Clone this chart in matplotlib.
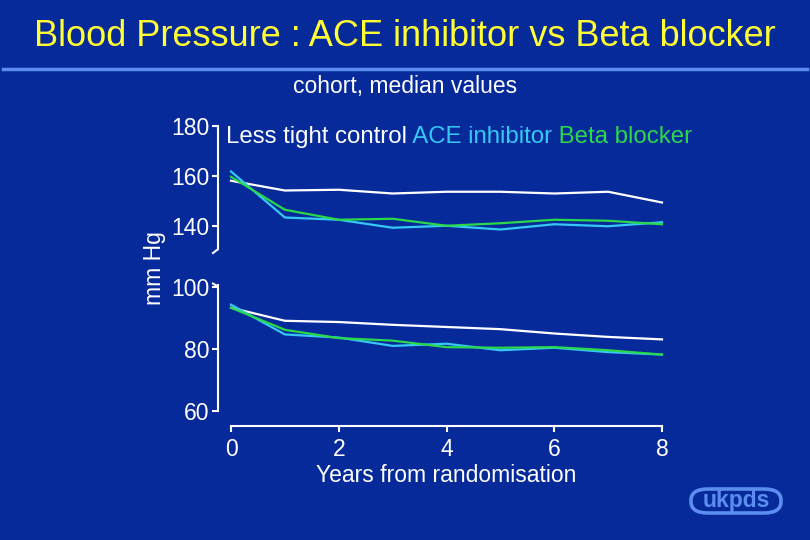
import matplotlib
matplotlib.use("Agg")
import matplotlib.pyplot as plt
from matplotlib.lines import Line2D
from matplotlib.patches import FancyBboxPatch

plt.rcParams["font.family"] = ["Liberation Sans", "DejaVu Sans"]

# данные (медианы, мм рт. ст.)
years = [0, 1, 2, 3, 4, 5, 6, 7, 8]
sys_less = [158.1, 154.2, 154.5, 153.0, 153.7, 153.7, 153.0, 153.7, 149.4]
sys_ace = [161.8, 143.4, 142.5, 139.3, 140.1, 138.6, 140.7, 139.9, 141.5]
sys_beta = [159.7, 146.5, 142.5, 142.9, 140.1, 141.1, 142.5, 142.1, 140.7]
dia_less = [93.3, 89.1, 88.7, 87.8, 87.1, 86.4, 85.0, 83.9, 83.1]
dia_ace = [94.3, 84.7, 83.7, 81.0, 81.7, 79.6, 80.4, 79.0, 78.2]
dia_beta = [93.3, 86.2, 83.5, 82.7, 80.6, 80.4, 80.6, 79.6, 78.2]
top_ticks = [140, 160, 180]
bot_ticks = [60, 80, 100]
x_ticks = [0, 2, 4, 6, 8]

BG = "#062a9a"
WHITE = "#ffffff"
CYAN = "#36c8f4"
GREEN = "#2ad84a"
LBLUE = "#5b8def"
W, H = 810, 540

fig = plt.figure(figsize=(8.1, 5.4), dpi=100, facecolor=BG)

fig.text(0.5, 1 - 37 / H, "Blood Pressure : ACE inhibitor vs Beta blocker",
         ha="center", va="center", fontsize=26, color="#ffff33")
fig.add_artist(Line2D([3 / W, 807 / W], [1 - 69 / H] * 2, color=LBLUE, lw=2.5))
fig.text(0.5, 1 - 87 / H, "cohort, median values", ha="center", va="center",
         fontsize=16.5, color=WHITE)

ax1 = fig.add_axes([231 / W, 1 - 251 / H, 431 / W, 125 / H])
ax2 = fig.add_axes([231 / W, 1 - 411 / H, 431 / W, 124 / H])

for ax in (ax1, ax2):
    ax.set_facecolor(BG)
    ax.patch.set_alpha(0)
    for s in ("top", "right"):
        ax.spines[s].set_visible(False)
    ax.spines["left"].set_position(("outward", 9.4))
    ax.spines["left"].set_color(WHITE)
    ax.spines["left"].set_linewidth(1.5)
    ax.tick_params(axis="y", colors=WHITE, length=4.5, width=1.5,
                   labelsize=16.5, pad=1.5, direction="out")
    ax.set_xlim(0, 8)

# систолическое
ax1.plot(years, sys_less, color=WHITE, lw=1.6, clip_on=False)
ax1.plot(years, sys_ace, color=CYAN, lw=1.6, clip_on=False)
ax1.plot(years, sys_beta, color=GREEN, lw=1.6, clip_on=False)
ax1.set_ylim(130, 180)
ax1.set_yticks(top_ticks)
ax1.spines["left"].set_bounds(131, 180)
ax1.spines["bottom"].set_visible(False)
ax1.set_xticks([])

# диастолическое
ax2.plot(years, dia_less, color=WHITE, lw=1.6, clip_on=False)
ax2.plot(years, dia_ace, color=CYAN, lw=1.6, clip_on=False)
ax2.plot(years, dia_beta, color=GREEN, lw=1.6, clip_on=False)
ax2.set_ylim(60, 100)
ax2.set_yticks(bot_ticks)
ax2.spines["left"].set_bounds(60, 100.6)
ax2.spines["bottom"].set_position(("outward", 10.8))
ax2.spines["bottom"].set_bounds(0, 8)
ax2.spines["bottom"].set_color(WHITE)
ax2.spines["bottom"].set_linewidth(1.5)
ax2.set_xticks(x_ticks)
ax2.tick_params(axis="x", colors=WHITE, length=4.5, width=1.5,
                labelsize=16.5, pad=4)
ax2.set_xlabel("Years from randomisation", color=WHITE, fontsize=16.5, labelpad=2)

# загибы на разрыве оси
for xs, ys in (([217, 213], [250, 253]), ([217, 213], [286, 283.5])):
    fig.add_artist(Line2D([x / W for x in xs], [1 - y / H for y in ys],
                          color=WHITE, lw=1.5))

fig.text(155 / W, 1 - 268 / H, "mm Hg", rotation=90, ha="center", va="center",
         fontsize=16.5, color=WHITE)

# легенда цветным текстом
t1 = fig.text(226 / W, 1 - 137 / H, "Less tight control", ha="left", va="center",
              fontsize=17.3, color=WHITE)
a2 = ax1.annotate(" ACE inhibitor", xy=(1, 0), xycoords=t1,
                  va="bottom", ha="left", fontsize=17.3, color=CYAN)
a3 = ax1.annotate(" Beta blocker", xy=(1, 0), xycoords=a2,
                  va="bottom", ha="left", fontsize=17.3, color=GREEN)

# логотип ukpds
fig.add_artist(FancyBboxPatch((691 / W, 1 - 513 / H), 90 / W, 24 / H,
                              boxstyle="round,pad=0,rounding_size=0.021",
                              transform=fig.transFigure, facecolor="none",
                              edgecolor=LBLUE, lw=2.6))
fig.text(736 / W, 1 - 500.5 / H, "ukpds", ha="center", va="center", fontsize=16.5,
         fontweight="bold", color=LBLUE)

fig.savefig("out.png", dpi=100, facecolor=BG)
